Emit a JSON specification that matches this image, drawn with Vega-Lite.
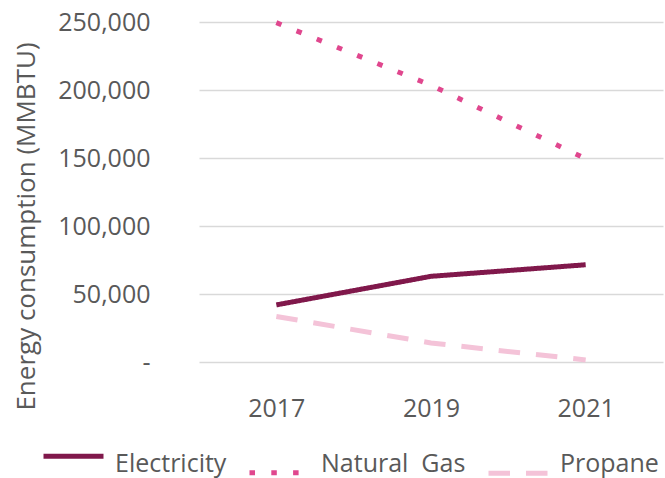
{
  "$schema": "https://vega.github.io/schema/vega-lite/v6.json",
  "width": 464,
  "height": 340,
  "autosize": {"type": "none"},
  "padding": {"left": 199, "top": 22, "right": 2, "bottom": 116},
  "background": "white",
  "config": {
    "view": {"stroke": null},
    "font": "Open Sans",
    "axis": {"labelColor": "#595959", "titleColor": "#595959", "labelFont": "Open Sans", "titleFont": "Open Sans"},
    "legend": {"labelColor": "#595959", "labelFont": "Open Sans"}
  },
  "data": {
    "values": [
      {"year": "2017", "series": "Electricity", "value": 42000},
      {"year": "2019", "series": "Electricity", "value": 63000},
      {"year": "2021", "series": "Electricity", "value": 71500},
      {"year": "2017", "series": "Natural Gas", "value": 249500},
      {"year": "2019", "series": "Natural Gas", "value": 203500},
      {"year": "2021", "series": "Natural Gas", "value": 149500},
      {"year": "2017", "series": "Propane", "value": 33500},
      {"year": "2019", "series": "Propane", "value": 14000},
      {"year": "2021", "series": "Propane", "value": 1500}
    ]
  },
  "mark": {"type": "line", "strokeWidth": 5, "strokeCap": "butt", "clip": false},
  "encoding": {
    "x": {
      "field": "year",
      "type": "ordinal",
      "sort": ["2017", "2019", "2021"],
      "scale": {"type": "point", "padding": 0.5},
      "axis": {
        "title": null,
        "labelAngle": 0,
        "labelFontSize": 25,
        "labelPadding": 34,
        "domain": false,
        "ticks": false,
        "grid": false
      }
    },
    "y": {
      "field": "value",
      "type": "quantitative",
      "scale": {"domain": [0, 250000], "nice": false, "zero": true},
      "axis": {
        "title": "Energy consumption (MMBTU)",
        "titleFontSize": 26,
        "titleFontWeight": "normal",
        "titleX": -160,
        "titleY": 204,
        "values": [0, 50000, 100000, 150000, 200000, 250000],
        "labelExpr": "datum.value == 0 ? '-\u00a0\u00a0\u00a0' : format(datum.value, ',')",
        "labelFontSize": 25,
        "labelPadding": 49,
        "domain": false,
        "ticks": false,
        "grid": true,
        "gridColor": "#D9D9D9",
        "gridWidth": 1.5
      }
    },
    "color": {
      "field": "series",
      "type": "nominal",
      "scale": {"domain": ["Electricity", "Natural Gas", "Propane"], "range": ["#80184B", "#E0478E", "#F4C3D8"]},
      "legend": {
        "title": null,
        "orient": "none",
        "direction": "horizontal",
        "legendX": -158,
        "legendY": 409,
        "symbolType": "stroke",
        "symbolSize": 3600,
        "symbolStrokeWidth": 5,
        "labelFontSize": 25,
        "labelOffset": 9,
        "columnPadding": 12,
        "padding": 0,
        "labelExpr": "datum.label == 'Natural Gas' ? 'Natural\u00a0\u00a0Gas' : datum.label",
        "encode": {"symbols": {"update": {"shape": {"signal": "datum.value === 'Electricity' ? 'M-1,-0.8M-1,-0.25H1M1,0.8' : (datum.value === 'Natural Gas' ? 'M-1,-0.8M-1,0.3H1M1,0.8' : 'M-1,-0.8M-1,0.32H1M1,0.8')"}}}}
      }
    },
    "strokeDash": {
      "field": "series",
      "type": "nominal",
      "scale": {"domain": ["Electricity", "Natural Gas", "Propane"], "range": [[1, 0], [5.5, 16.3], [21.5, 16]]},
      "legend": {
        "title": null,
        "orient": "none",
        "direction": "horizontal",
        "legendX": -158,
        "legendY": 409,
        "symbolType": "stroke",
        "symbolSize": 3600,
        "symbolStrokeWidth": 5,
        "labelFontSize": 25,
        "labelOffset": 9,
        "columnPadding": 12,
        "padding": 0,
        "labelExpr": "datum.label == 'Natural Gas' ? 'Natural\u00a0\u00a0Gas' : datum.label",
        "encode": {"symbols": {"update": {"shape": {"signal": "datum.value === 'Electricity' ? 'M-1,-0.8M-1,-0.25H1M1,0.8' : (datum.value === 'Natural Gas' ? 'M-1,-0.8M-1,0.3H1M1,0.8' : 'M-1,-0.8M-1,0.32H1M1,0.8')"}}}}
      }
    }
  }
}
